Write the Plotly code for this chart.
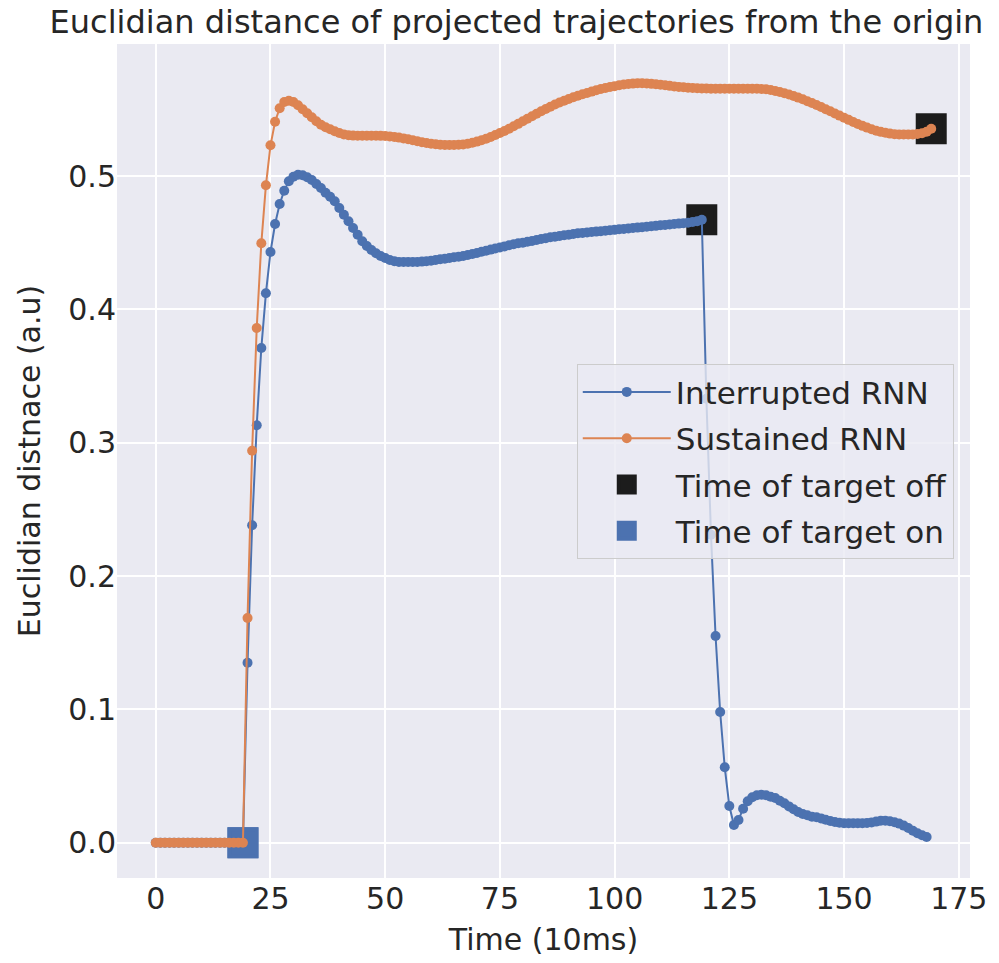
import plotly.graph_objects as go

# ---- data ----
interrupted_t = list(range(0, 169))
interrupted = [0.0] * 20 + [
    0.135, 0.238, 0.313, 0.371, 0.412, 0.443, 0.464, 0.479, 0.489, 0.496,      # 20-29
    0.4995, 0.501, 0.5005, 0.499, 0.497, 0.494, 0.491, 0.4875, 0.4845, 0.481,  # 30-39
    0.476, 0.471, 0.466, 0.461, 0.456, 0.451, 0.4475, 0.4445, 0.442, 0.440,    # 40-49
    0.4385, 0.437, 0.436, 0.4355, 0.4355, 0.4355, 0.4355, 0.4355, 0.4358, 0.436,  # 50-59
    0.4365, 0.437, 0.4375, 0.438, 0.4385, 0.439, 0.4395, 0.440, 0.4407, 0.4415,  # 60-69
    0.4423, 0.4432, 0.444, 0.4448, 0.4456, 0.4464, 0.4472, 0.448, 0.4488, 0.4495,  # 70-79
    0.450, 0.4507, 0.4513, 0.452, 0.4527, 0.4533, 0.454, 0.4545, 0.455, 0.4555,  # 80-89
    0.456, 0.4565, 0.457, 0.4573, 0.4576, 0.458, 0.4583, 0.4586, 0.459, 0.4593,  # 90-99
    0.4596, 0.460, 0.4603, 0.4606, 0.461, 0.4613, 0.4616, 0.462, 0.4623, 0.4626,  # 100-109
    0.463, 0.4633, 0.4636, 0.464, 0.4643, 0.4646, 0.465, 0.4655, 0.466, 0.4672,  # 110-119
    0.333, 0.231, 0.155, 0.098, 0.0565, 0.0275, 0.0133, 0.017, 0.0255, 0.031,  # 120-129
    0.034, 0.0355, 0.036, 0.0355, 0.0345, 0.0335, 0.0315, 0.0295, 0.0272, 0.025,  # 130-139
    0.023, 0.0215, 0.0205, 0.0195, 0.019, 0.0182, 0.0172, 0.0163, 0.0155, 0.015,  # 140-149
    0.0146, 0.0145, 0.0145, 0.0145, 0.0146, 0.0148, 0.0152, 0.0158, 0.0165, 0.0165,  # 150-159
    0.016, 0.0153, 0.0143, 0.0128, 0.011, 0.009, 0.007, 0.0055, 0.0043,          # 160-168
]

sustained_t = list(range(0, 170))
sustained = [0.0] * 20 + [
    0.1685, 0.294, 0.386, 0.4495, 0.493, 0.523, 0.5407, 0.5508, 0.5555, 0.5565,  # 20-29
    0.5555, 0.553, 0.550, 0.547, 0.544, 0.541, 0.5385, 0.5365, 0.535, 0.5335,  # 30-39
    0.5322, 0.5312, 0.5306, 0.5303, 0.5302, 0.5302, 0.5302, 0.5302, 0.5302, 0.5301,  # 40-49
    0.530, 0.5297, 0.5293, 0.5288, 0.5282, 0.5275, 0.5268, 0.526, 0.5253, 0.5247,  # 50-59
    0.5242, 0.5238, 0.5235, 0.5233, 0.5232, 0.5232, 0.5234, 0.5237, 0.5242, 0.5249,  # 60-69
    0.5258, 0.5268, 0.528, 0.5293, 0.5307, 0.5322, 0.5338, 0.5355, 0.5373, 0.5391,  # 70-79
    0.541, 0.5429, 0.5448, 0.5467, 0.5485, 0.5503, 0.552, 0.5536, 0.5551, 0.5565,  # 80-89
    0.5578, 0.559, 0.5602, 0.5613, 0.5623, 0.5633, 0.5643, 0.5652, 0.566, 0.5667,  # 90-99
    0.5674, 0.568, 0.5686, 0.569, 0.5693, 0.5695, 0.5695, 0.5694, 0.5691, 0.5688,  # 100-109
    0.5684, 0.568, 0.5676, 0.5672, 0.5668, 0.5665, 0.5662, 0.566, 0.5658, 0.5657,  # 110-119
    0.5656, 0.5655, 0.5655, 0.5655, 0.5655, 0.5655, 0.5655, 0.5655, 0.5655, 0.5655,  # 120-129
    0.5655, 0.5654, 0.5653, 0.565, 0.5645, 0.5638, 0.563, 0.5621, 0.5611, 0.560,  # 130-139
    0.5588, 0.5575, 0.5561, 0.5547, 0.5532, 0.5517, 0.5501, 0.5485, 0.5469, 0.5453,  # 140-149
    0.5437, 0.5421, 0.5405, 0.539, 0.5376, 0.5363, 0.5351, 0.534, 0.5331, 0.5324,  # 150-159
    0.5318, 0.5314, 0.5312, 0.5311, 0.5311, 0.5312, 0.5315, 0.532, 0.5332, 0.5355,  # 160-169
]

target_off_interrupted = 119
target_off_sustained = 169
target_on = 19

x_ticks = [0, 25, 50, 75, 100, 125, 150, 175]
y_ticks = [0.0, 0.1, 0.2, 0.3, 0.4, 0.5]

BLUE = "#4C72B0"
ORANGE = "#DD8452"
BLACK = "#1c1c1c"
TEXT = "#262626"
FONT = "DejaVu Sans"

fig = go.Figure()

# big event markers first (drawn underneath the lines)
fig.add_trace(go.Scatter(
    x=[target_off_interrupted, target_off_sustained],
    y=[interrupted[target_off_interrupted], sustained[target_off_sustained]],
    mode="markers", name="Time of target off", legendrank=3, legendgroup="c",
    marker=dict(symbol="square", size=27, color=BLACK, line=dict(color=BLACK, width=4)),
))
fig.add_trace(go.Scatter(
    x=[target_on, target_on],
    y=[interrupted[target_on], sustained[target_on]],
    mode="markers", name="Time of target on", legendrank=4, legendgroup="d",
    marker=dict(symbol="square", size=27, color=BLUE, line=dict(color=BLUE, width=4)),
))
fig.add_trace(go.Scatter(
    x=interrupted_t, y=interrupted, mode="lines+markers", name="Interrupted RNN",
    legendrank=1, legendgroup="a",
    line=dict(color=BLUE, width=2), marker=dict(size=10, color=BLUE),
))
fig.add_trace(go.Scatter(
    x=sustained_t, y=sustained, mode="lines+markers", name="Sustained RNN",
    legendrank=2, legendgroup="b",
    line=dict(color=ORANGE, width=2), marker=dict(size=10, color=ORANGE),
))

fig.update_layout(
    width=999, height=963,
    margin=dict(l=117, r=26, t=44, b=85),
    paper_bgcolor="white", plot_bgcolor="#EAEAF2",
    font=dict(family=FONT, color=TEXT, size=30),
    title=dict(text="Euclidian distance of projected trajectories from the origin",
               x=0.517, xanchor="center", xref="container", y=0.977, yanchor="middle",
               font=dict(size=32, color=TEXT, family=FONT)),
    showlegend=True,
    legend=dict(x=0.539, y=0.616, xanchor="left", yanchor="top",
                bgcolor="rgba(234,234,242,0.8)", bordercolor="#cccccc", borderwidth=1,
                font=dict(size=31, color=TEXT, family=FONT),
                tracegroupgap=3, itemwidth=88),
    xaxis=dict(range=[-8.45, 177.45], tickvals=x_ticks, ticktext=[str(v) for v in x_ticks],
               showgrid=True, gridcolor="white", gridwidth=2, zeroline=False,
               showline=False, ticks="", tickfont=dict(size=30),
               title=dict(text="Time (10ms)", font=dict(size=30), standoff=13)),
    yaxis=dict(range=[-0.0265, 0.599], tickvals=y_ticks, ticktext=[f"{v:.1f}" for v in y_ticks],
               showgrid=True, gridcolor="white", gridwidth=2, zeroline=False,
               showline=False, ticks="", tickfont=dict(size=30),
               title=dict(text="Euclidian distnace (a.u)", font=dict(size=30), standoff=18)),
)

fig.write_html("out.html")
